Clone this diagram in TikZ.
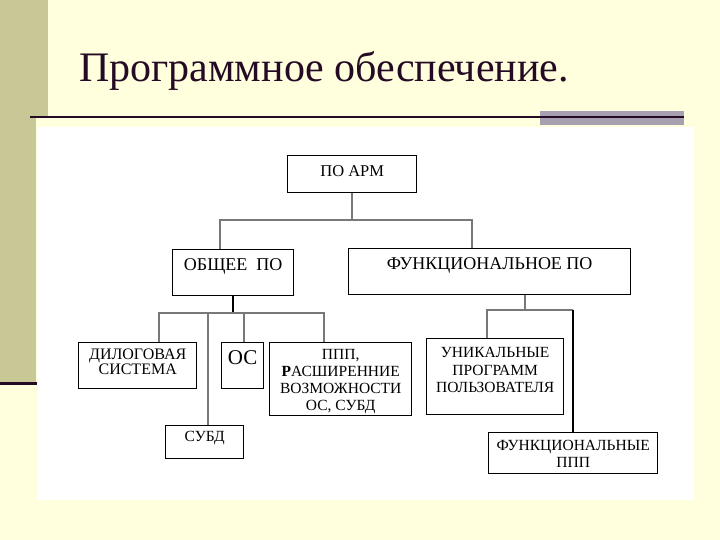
\documentclass[tikz,border=0pt]{standalone}
\usepackage{fontspec}
\setmainfont{Liberation Serif}
\newfontfamily\boxfont{Liberation Serif}
\definecolor{bgy}{RGB}{255,255,222}
\definecolor{olive}{RGB}{200,200,150}
\definecolor{titlec}{RGB}{36,10,36}
\definecolor{barc}{RGB}{168,160,176}
\definecolor{connc}{RGB}{120,120,120}
\newcommand{\bxtext}[6]{\parbox[c][#2pt][t]{#1pt}{\centering\boxfont\fontsize{#4}{#5}\selectfont\vspace*{#3pt}#6\par}}
\begin{document}
\begin{tikzpicture}[x=1pt,y=-1pt,
  box/.style={draw=black,line width=1.4pt,inner sep=0pt,anchor=north west,fill=white},
  conn/.style={draw=connc,line width=1.5pt},
  bold/.style={draw=black,line width=2.4pt}]
\useasboundingbox (0,0) rectangle (720,540);
\fill[bgy] (0,0) rectangle (720,540);
\fill[olive] (0,0) rectangle (48,117);
\fill[olive] (0,117) rectangle (36,383);
\fill[titlec] (0,381.5) rectangle (37,385);
\fill[barc] (540,111) rectangle (684,125);
\fill[titlec] (30,116) rectangle (684,118.5);
\fill[white] (38,127) rectangle (694,500);
\node[anchor=base west,inner sep=0pt,text=titlec,font=\fontsize{42}{50}\selectfont] (title) at (79,82) {Программное обеспечение.};
% boxes
\node[box] (apm) at (287,155) {\bxtext{129}{37}{10}{16.5}{17}{ПО АРМ}};
\node[box] (obsh) at (172,249) {\bxtext{121}{46}{9}{18}{18}{ОБЩЕЕ\enspace ПО}};
\node[box] (func) at (348,248) {\bxtext{282}{46}{9}{18}{18}{ФУНКЦИОНАЛЬНОЕ ПО}};
\node[box] (dil) at (78,342) {\bxtext{118}{46}{6}{16}{15}{ДИЛОГОВАЯ\\СИСТЕМА}};
\node[box] (os) at (221,342) {\bxtext{42}{46}{8}{21}{21}{ОС}};
\node[box] (ppp) at (269,342) {\bxtext{142}{73}{7}{15.5}{17}{ППП,\\\textbf{Р}АСШИРЕННИЕ\\ВОЗМОЖНОСТИ\\ОС, СУБД}};
\node[box] (subd) at (165,425) {\bxtext{78}{33}{6}{15.5}{16}{СУБД}};
\node[box] (uni) at (426,338) {\bxtext{137}{76}{9}{15.5}{17.5}{УНИКАЛЬНЫЕ\\ПРОГРАММ\\ПОЛЬЗОВАТЕЛЯ}};
\node[box] (fppp) at (488,432) {\bxtext{169}{41}{8}{15.5}{17}{ФУНКЦИОНАЛЬНЫЕ\\ППП}};
% junction coordinates
\coordinate (b1) at (220,220);
\coordinate (b2) at (472,220);
\coordinate (c1) at (159,313);
\coordinate (c2) at (208,313);
\coordinate (c3) at (244,313);
\coordinate (c4) at (324,313);
\coordinate (d0) at (525,310);
\coordinate (d1) at (487,310);
\coordinate (d2) at (573,310);
% connectors
\draw[conn] (apm.south) -- (apm.south |- b1);
\draw[conn] (obsh.north -| b1) -- (b1) -- (b2) -- (func.north -| b2);
\draw[bold] (obsh.south) -- (obsh.south |- c1);
\draw[conn] (dil.north -| c1) -- (c1) -- (c4) -- (ppp.north -| c4);
\draw[conn] (subd.north -| c2) -- (c2);
\draw[conn] (os.north -| c3) -- (c3);
\draw[conn] (func.south -| d0) -- (d0);
\draw[conn] (uni.north -| d1) -- (d1) -- (d2);
\draw[bold] (d2) -- (fppp.north -| d2);
\end{tikzpicture}
\end{document}
